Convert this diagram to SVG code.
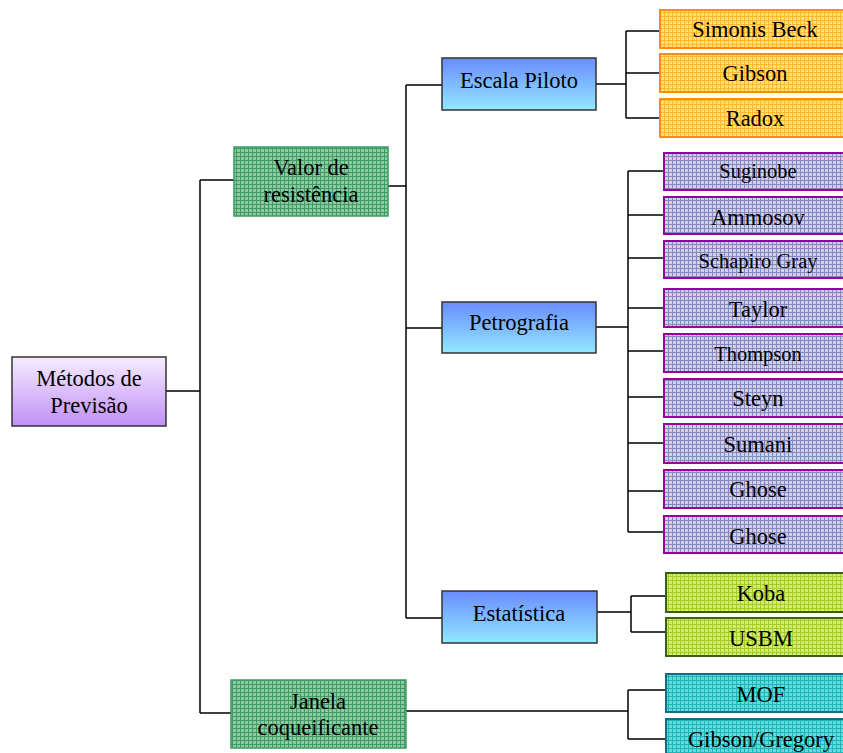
<svg xmlns="http://www.w3.org/2000/svg" width="843" height="753" viewBox="0 0 843 753">
<defs>
<linearGradient id="gPurple" x1="0" y1="0" x2="0" y2="1"><stop offset="0" stop-color="#f6ecff"/><stop offset="1" stop-color="#c090f6"/></linearGradient>
<linearGradient id="gBlue" x1="0" y1="0" x2="0" y2="1"><stop offset="0" stop-color="#6a8cff"/><stop offset="1" stop-color="#92e8ff"/></linearGradient>
<pattern id="pGreen" width="4" height="4" patternUnits="userSpaceOnUse"><rect width="4" height="4" fill="#8ccaa2"/><path d="M0 0.5H4M0.5 0V4" stroke="#449a66" stroke-width="1"/></pattern>
<pattern id="pYellow" width="4" height="4" patternUnits="userSpaceOnUse"><rect width="4" height="4" fill="#ffe070"/><path d="M0 0.5H4M0.5 0V4" stroke="#ffb830" stroke-width="1"/></pattern>
<pattern id="pLav" width="4" height="4" patternUnits="userSpaceOnUse"><rect width="4" height="4" fill="#d0d0e6"/><path d="M0 0.5H4M0.5 0V4" stroke="#8888c0" stroke-width="1"/></pattern>
<pattern id="pLime" width="4" height="4" patternUnits="userSpaceOnUse"><rect width="4" height="4" fill="#d4ea70"/><path d="M0 0.5H4M0.5 0V4" stroke="#a4cc28" stroke-width="1"/></pattern>
<pattern id="pCyan" width="4" height="4" patternUnits="userSpaceOnUse"><rect width="4" height="4" fill="#60dcdc"/><path d="M0 0.5H4M0.5 0V4" stroke="#20b4b8" stroke-width="1"/></pattern>
<style>
text{font-size:22.5px;fill:#000;text-anchor:middle}
.sm{font-size:20.5px}
.root{fill:url(#gPurple);stroke:#333;stroke-width:1.5}
.blue{fill:url(#gBlue);stroke:#333;stroke-width:1.5}
.green{fill:url(#pGreen);stroke:#3a9a60;stroke-width:1.5}
.yel{fill:url(#pYellow);stroke:#ff8c10;stroke-width:2}
.lav{fill:url(#pLav);stroke:#990099;stroke-width:2}
.lime{fill:url(#pLime);stroke:#3a6010;stroke-width:2}
.cyan{fill:url(#pCyan);stroke:#1a6a80;stroke-width:2}
#connectors path{fill:none;stroke:#000;stroke-width:1.5}
</style>
</defs>
<rect width="843" height="753" fill="#fff"/>
<g id="connectors">
<path d="M166 391H200M200 180V713M200 180H234M200 713H231"/>
<path d="M388 186H406M406 85V618M406 85H442M406 328H442M406 618H442"/>
<path d="M596 84H626M626 31V118M626 31H660M626 73H660M626 118H660"/>
<path d="M596 327H628M628 171V532M628 171H664M628 215H664M628 258H664M628 308H664M628 351H664M628 397H664M628 443H664M628 491H664M628 532H664"/>
<path d="M597 612H631M631 596V632M631 596H666M631 632H666"/>
<path d="M406 711H628M628 690V739M628 690H666M628 739H666"/>
</g>
<g font-family="'Liberation Serif', 'DejaVu Serif', serif">
<g id="n-metodos"><rect class="root" x="12" y="357" width="154" height="69"/><text x="89" y="386">Métodos de</text><text x="89" y="413">Previsão</text></g>
<g id="n-valor"><rect class="green" x="234" y="147" width="154" height="69"/><text x="311" y="175">Valor de</text><text x="311" y="202">resistência</text></g>
<g id="n-janela"><rect class="green" x="231" y="680" width="175" height="68"/><text x="318" y="709">Janela</text><text x="318" y="735">coqueificante</text></g>
<g id="n-escala"><rect class="blue" x="442" y="58" width="154" height="52"/><text x="519" y="88">Escala Piloto</text></g>
<g id="n-petrografia"><rect class="blue" x="442" y="302" width="154" height="51"/><text x="519" y="330">Petrografia</text></g>
<g id="n-estatistica"><rect class="blue" x="442" y="591" width="155" height="52"/><text x="519" y="621">Estatística</text></g>
<g id="n-simonis"><rect class="yel" x="660" y="10" width="190" height="38"/><text x="755" y="37">Simonis Beck</text></g>
<g id="n-gibson"><rect class="yel" x="660" y="54" width="190" height="38"/><text x="755" y="81">Gibson</text></g>
<g id="n-radox"><rect class="yel" x="660" y="99" width="190" height="38"/><text x="755" y="126">Radox</text></g>
<g id="n-suginobe"><rect class="lav" x="664" y="153" width="190" height="37"/><text class="sm" x="758" y="178">Suginobe</text></g>
<g id="n-ammosov"><rect class="lav" x="664" y="197" width="190" height="37"/><text x="758" y="225">Ammosov</text></g>
<g id="n-schapiro"><rect class="lav" x="664" y="241" width="190" height="37"/><text class="sm" x="758" y="268">Schapiro Gray</text></g>
<g id="n-taylor"><rect class="lav" x="664" y="289" width="190" height="38"/><text x="758" y="317">Taylor</text></g>
<g id="n-thompson"><rect class="lav" x="664" y="334" width="190" height="38"/><text class="sm" x="758" y="361">Thompson</text></g>
<g id="n-steyn"><rect class="lav" x="664" y="379" width="190" height="38"/><text x="758" y="406">Steyn</text></g>
<g id="n-sumani"><rect class="lav" x="664" y="424" width="190" height="39"/><text x="758" y="452">Sumani</text></g>
<g id="n-ghose1"><rect class="lav" x="664" y="470" width="190" height="38"/><text x="758" y="497">Ghose</text></g>
<g id="n-ghose2"><rect class="lav" x="664" y="516" width="190" height="37"/><text x="758" y="544">Ghose</text></g>
<g id="n-koba"><rect class="lime" x="666" y="573" width="190" height="39"/><text x="761" y="601">Koba</text></g>
<g id="n-usbm"><rect class="lime" x="666" y="618" width="190" height="38"/><text x="761" y="646">USBM</text></g>
<g id="n-mof"><rect class="cyan" x="666" y="674" width="190" height="38"/><text x="761" y="702">MOF</text></g>
<g id="n-gibsongregory"><rect class="cyan" x="666" y="719" width="190" height="40"/><text x="761" y="747">Gibson/Gregory</text></g>
</g>
</svg>
